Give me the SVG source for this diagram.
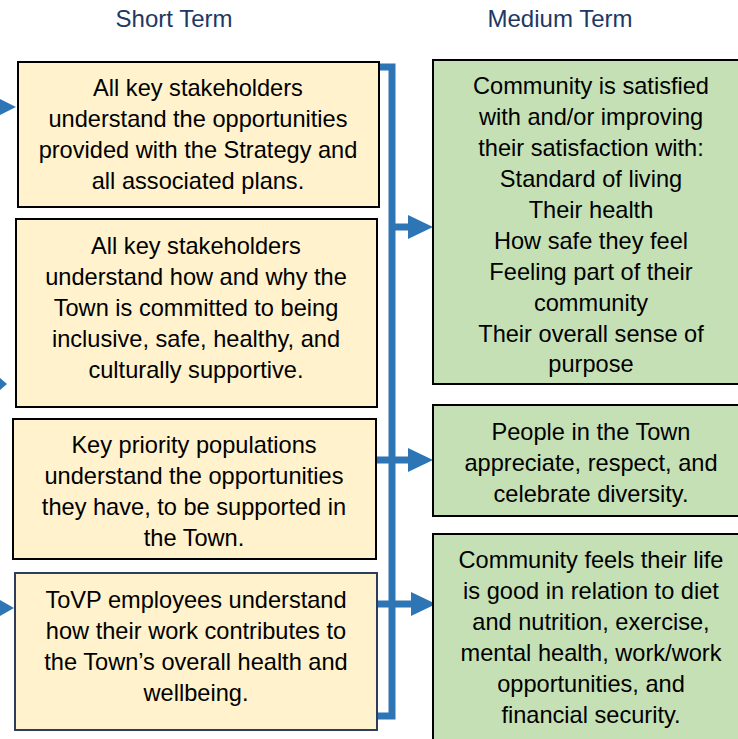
<svg xmlns="http://www.w3.org/2000/svg" width="738" height="739" viewBox="0 0 738 739">
<style>
.hdr{font-family:"Liberation Sans",Arial,sans-serif;font-size:24px;fill:#203864;text-anchor:middle}
.t{font-family:"Liberation Sans",Arial,sans-serif;font-size:23.6px;fill:#000;text-anchor:middle}
.y{fill:#fff2cc;stroke:#000;stroke-width:2}
.y4{fill:#fff2cc;stroke:#2f3d5c;stroke-width:2}
.g{fill:#c5e0b4;stroke:#000;stroke-width:2}
.ln{stroke:#2e75b6;stroke-width:7;fill:none}
.ah{fill:#2e75b6}
</style>
<rect width="738" height="739" fill="#fff"/>
<text class="hdr" x="174" y="27">Short Term</text>
<text class="hdr" x="560" y="27">Medium Term</text>
<g id="connectors">
<path class="ln" d="M379,67 H392 V716 H377"/>
<path class="ln" d="M392,227 H412"/>
<polygon class="ah" points="408,215 433,227 408,239"/>
<path class="ln" d="M376,460 H412"/>
<polygon class="ah" points="408,448 433,460 408,472"/>
<path class="ln" d="M377,604 H415"/>
<polygon class="ah" points="411,592 436,604 411,616"/>
<polygon class="ah" points="0,99 16,107 0,115"/>
<polygon class="ah" points="0,378 7,384 0,390"/>
<polygon class="ah" points="0,600 14,608 0,616"/>
</g>
<g id="s1">
<rect class="y" x="18" y="62" width="361" height="145"/>
<text class="t"><tspan x="198" y="96">All key stakeholders</tspan><tspan x="198" y="127">understand the opportunities</tspan><tspan x="198" y="158">provided with the Strategy and</tspan><tspan x="198" y="189">all associated plans.</tspan></text>
</g>
<g id="s2">
<rect class="y" x="16" y="219" width="361" height="188"/>
<text class="t"><tspan x="196" y="254">All key stakeholders</tspan><tspan x="196" y="285">understand how and why the</tspan><tspan x="196" y="316">Town is committed to being</tspan><tspan x="196" y="347">inclusive, safe, healthy, and</tspan><tspan x="196" y="378">culturally supportive.</tspan></text>
</g>
<g id="s3">
<rect class="y" x="13" y="419" width="363" height="140"/>
<text class="t"><tspan x="194" y="453">Key priority populations</tspan><tspan x="194" y="484">understand the opportunities</tspan><tspan x="194" y="515">they have, to be supported in</tspan><tspan x="194" y="546">the Town.</tspan></text>
</g>
<g id="s4">
<rect class="y4" x="15" y="573" width="362" height="157"/>
<text class="t"><tspan x="196" y="608">ToVP employees understand</tspan><tspan x="196" y="639">how their work contributes to</tspan><tspan x="196" y="670">the Town’s overall health and</tspan><tspan x="196" y="701">wellbeing.</tspan></text>
</g>
<g id="m1">
<rect class="g" x="433" y="60" width="320" height="324"/>
<text class="t"><tspan x="591" y="94">Community is satisfied</tspan><tspan x="591" y="125">with and/or improving</tspan><tspan x="591" y="156">their satisfaction with:</tspan><tspan x="591" y="187">Standard of living</tspan><tspan x="591" y="218">Their health</tspan><tspan x="591" y="249">How safe they feel</tspan><tspan x="591" y="280">Feeling part of their</tspan><tspan x="591" y="311">community</tspan><tspan x="591" y="342">Their overall sense of</tspan><tspan x="591" y="372">purpose</tspan></text>
</g>
<g id="m2">
<rect class="g" x="433" y="405" width="320" height="111"/>
<text class="t"><tspan x="591" y="440">People in the Town</tspan><tspan x="591" y="471">appreciate, respect, and</tspan><tspan x="591" y="502">celebrate diversity.</tspan></text>
</g>
<g id="m3">
<rect class="g" x="433" y="534" width="320" height="220"/>
<text class="t"><tspan x="591" y="568">Community feels their life</tspan><tspan x="591" y="599">is good in relation to diet</tspan><tspan x="591" y="630">and nutrition, exercise,</tspan><tspan x="591" y="661">mental health, work/work</tspan><tspan x="591" y="692">opportunities, and</tspan><tspan x="591" y="723">financial security.</tspan></text>
</g>
</svg>
